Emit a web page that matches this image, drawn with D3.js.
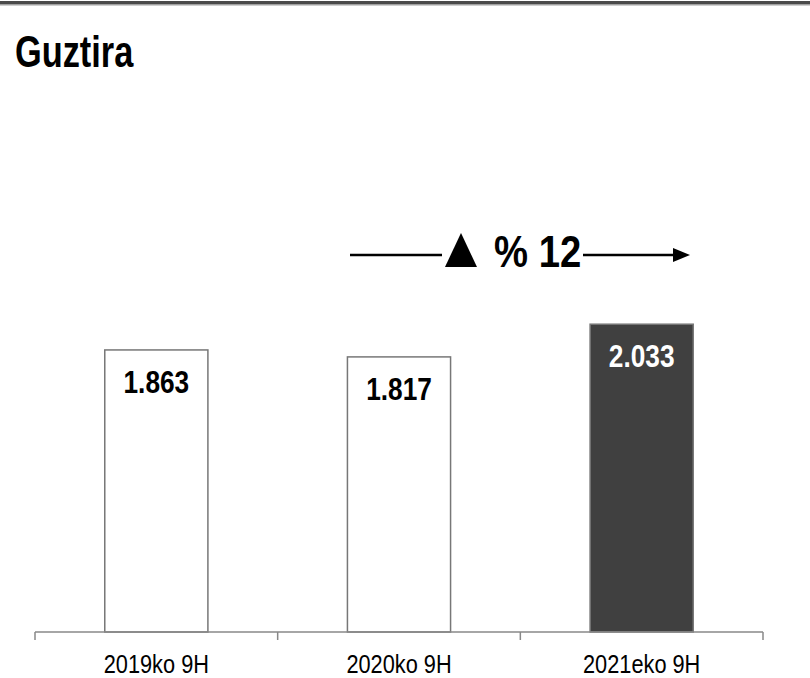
<!DOCTYPE html>
<html>
<head>
<meta charset="utf-8">
<script src="https://cdn.jsdelivr.net/npm/d3@7"></script>
<style>
  html, body { margin: 0; padding: 0; background: #fff; }
  svg { display: block; }
  text { font-family: "Liberation Sans", Arial, sans-serif; }
</style>
</head>
<body>
<svg id="chart" width="810" height="678"></svg>
<script>
const categories = ["2019ko 9H", "2020ko 9H", "2021eko 9H"];
const values = [1863, 1817, 2033];
const valueLabels = ["1.863", "1.817", "2.033"];
const title = "Guztira";
const changeLabel = "% 12";

const svg = d3.select("#chart");
const W = 810, H = 678;

// condense text horizontally (narrow face is not installed)
function narrow(sel, f) {
  sel.each(function () {
    const w = this.getComputedTextLength();
    d3.select(this).attr("textLength", w * f).attr("lengthAdjust", "spacingAndGlyphs");
  });
}

// top border
svg.append("rect").attr("x", 0).attr("y", 1).attr("width", W).attr("height", 3).attr("fill", "#4a4a4a");
svg.append("rect").attr("x", 0).attr("y", 4).attr("width", W).attr("height", 1.5).attr("fill", "#a0a0a0");

// title
svg.append("text").attr("x", 15).attr("y", 67)
  .attr("font-size", 44).attr("font-weight", "bold").attr("fill", "#000")
  .text(title).call(narrow, 0.78);

const x = d3.scaleBand().domain(categories).range([35, 763]).padding(0);
const y = d3.scaleLinear().domain([0, 2500]).range([632, 253.5]);
const bw = x.bandwidth() * 0.425;
const fills = ["#ffffff", "#ffffff", "#404040"];
const labelFills = ["#000", "#000", "#fff"];

// bars
svg.selectAll("rect.bar").data(values).join("rect")
  .attr("class", "bar")
  .attr("x", (d, i) => x(categories[i]) + (x.bandwidth() - bw) / 2)
  .attr("y", d => y(d))
  .attr("width", bw)
  .attr("height", d => y(0) - y(d))
  .attr("fill", (d, i) => fills[i])
  .attr("stroke", "#777")
  .attr("stroke-width", 1.5);

// value labels
svg.selectAll("text.val").data(values).join("text")
  .attr("class", "val")
  .attr("x", (d, i) => x(categories[i]) + x.bandwidth() / 2)
  .attr("y", d => y(d) + 43)
  .attr("text-anchor", "middle")
  .attr("font-size", 32).attr("font-weight", "bold")
  .attr("fill", (d, i) => labelFills[i])
  .text((d, i) => valueLabels[i])
  .call(narrow, 0.82);

// axis
const axisG = svg.append("g").attr("transform", `translate(0,${y(0)})`);
const axis = d3.axisBottom(x).tickSize(0).tickPadding(0);
axisG.call(axis);
axisG.select(".domain").attr("stroke", "#888").attr("stroke-width", 1.5).attr("d", `M${x.range()[0]},0H${x.range()[1]}`);
axisG.selectAll(".tick text")
  .attr("y", 41)
  .attr("dy", 0)
  .attr("font-size", 25)
  .attr("font-family", '"Liberation Sans", Arial, sans-serif')
  .attr("fill", "#000")
  .call(narrow, 0.87);
const boundaries = categories.map(c => x(c)).concat([x.range()[1]]);
axisG.selectAll("line.bnd").data(boundaries).join("line")
  .attr("class", "bnd")
  .attr("x1", d => d).attr("x2", d => d)
  .attr("y1", 0).attr("y2", 8)
  .attr("stroke", "#888").attr("stroke-width", 1.5);

// change annotation
const ay = 255;
svg.append("line").attr("x1", 350).attr("x2", 442).attr("y1", ay).attr("y2", ay)
  .attr("stroke", "#000").attr("stroke-width", 2.5);
svg.append("path").attr("d", "M445,267L461,233L477,267Z").attr("fill", "#000");
svg.append("text").attr("x", 494).attr("y", 267)
  .attr("font-size", 45).attr("font-weight", "bold").attr("fill", "#000")
  .text(changeLabel).call(narrow, 0.85);
svg.append("line").attr("x1", 583).attr("x2", 676).attr("y1", ay).attr("y2", ay)
  .attr("stroke", "#000").attr("stroke-width", 2.5);
svg.append("path").attr("d", "M673,248L690,255L673,262Z").attr("fill", "#000");
</script>
</body>
</html>
